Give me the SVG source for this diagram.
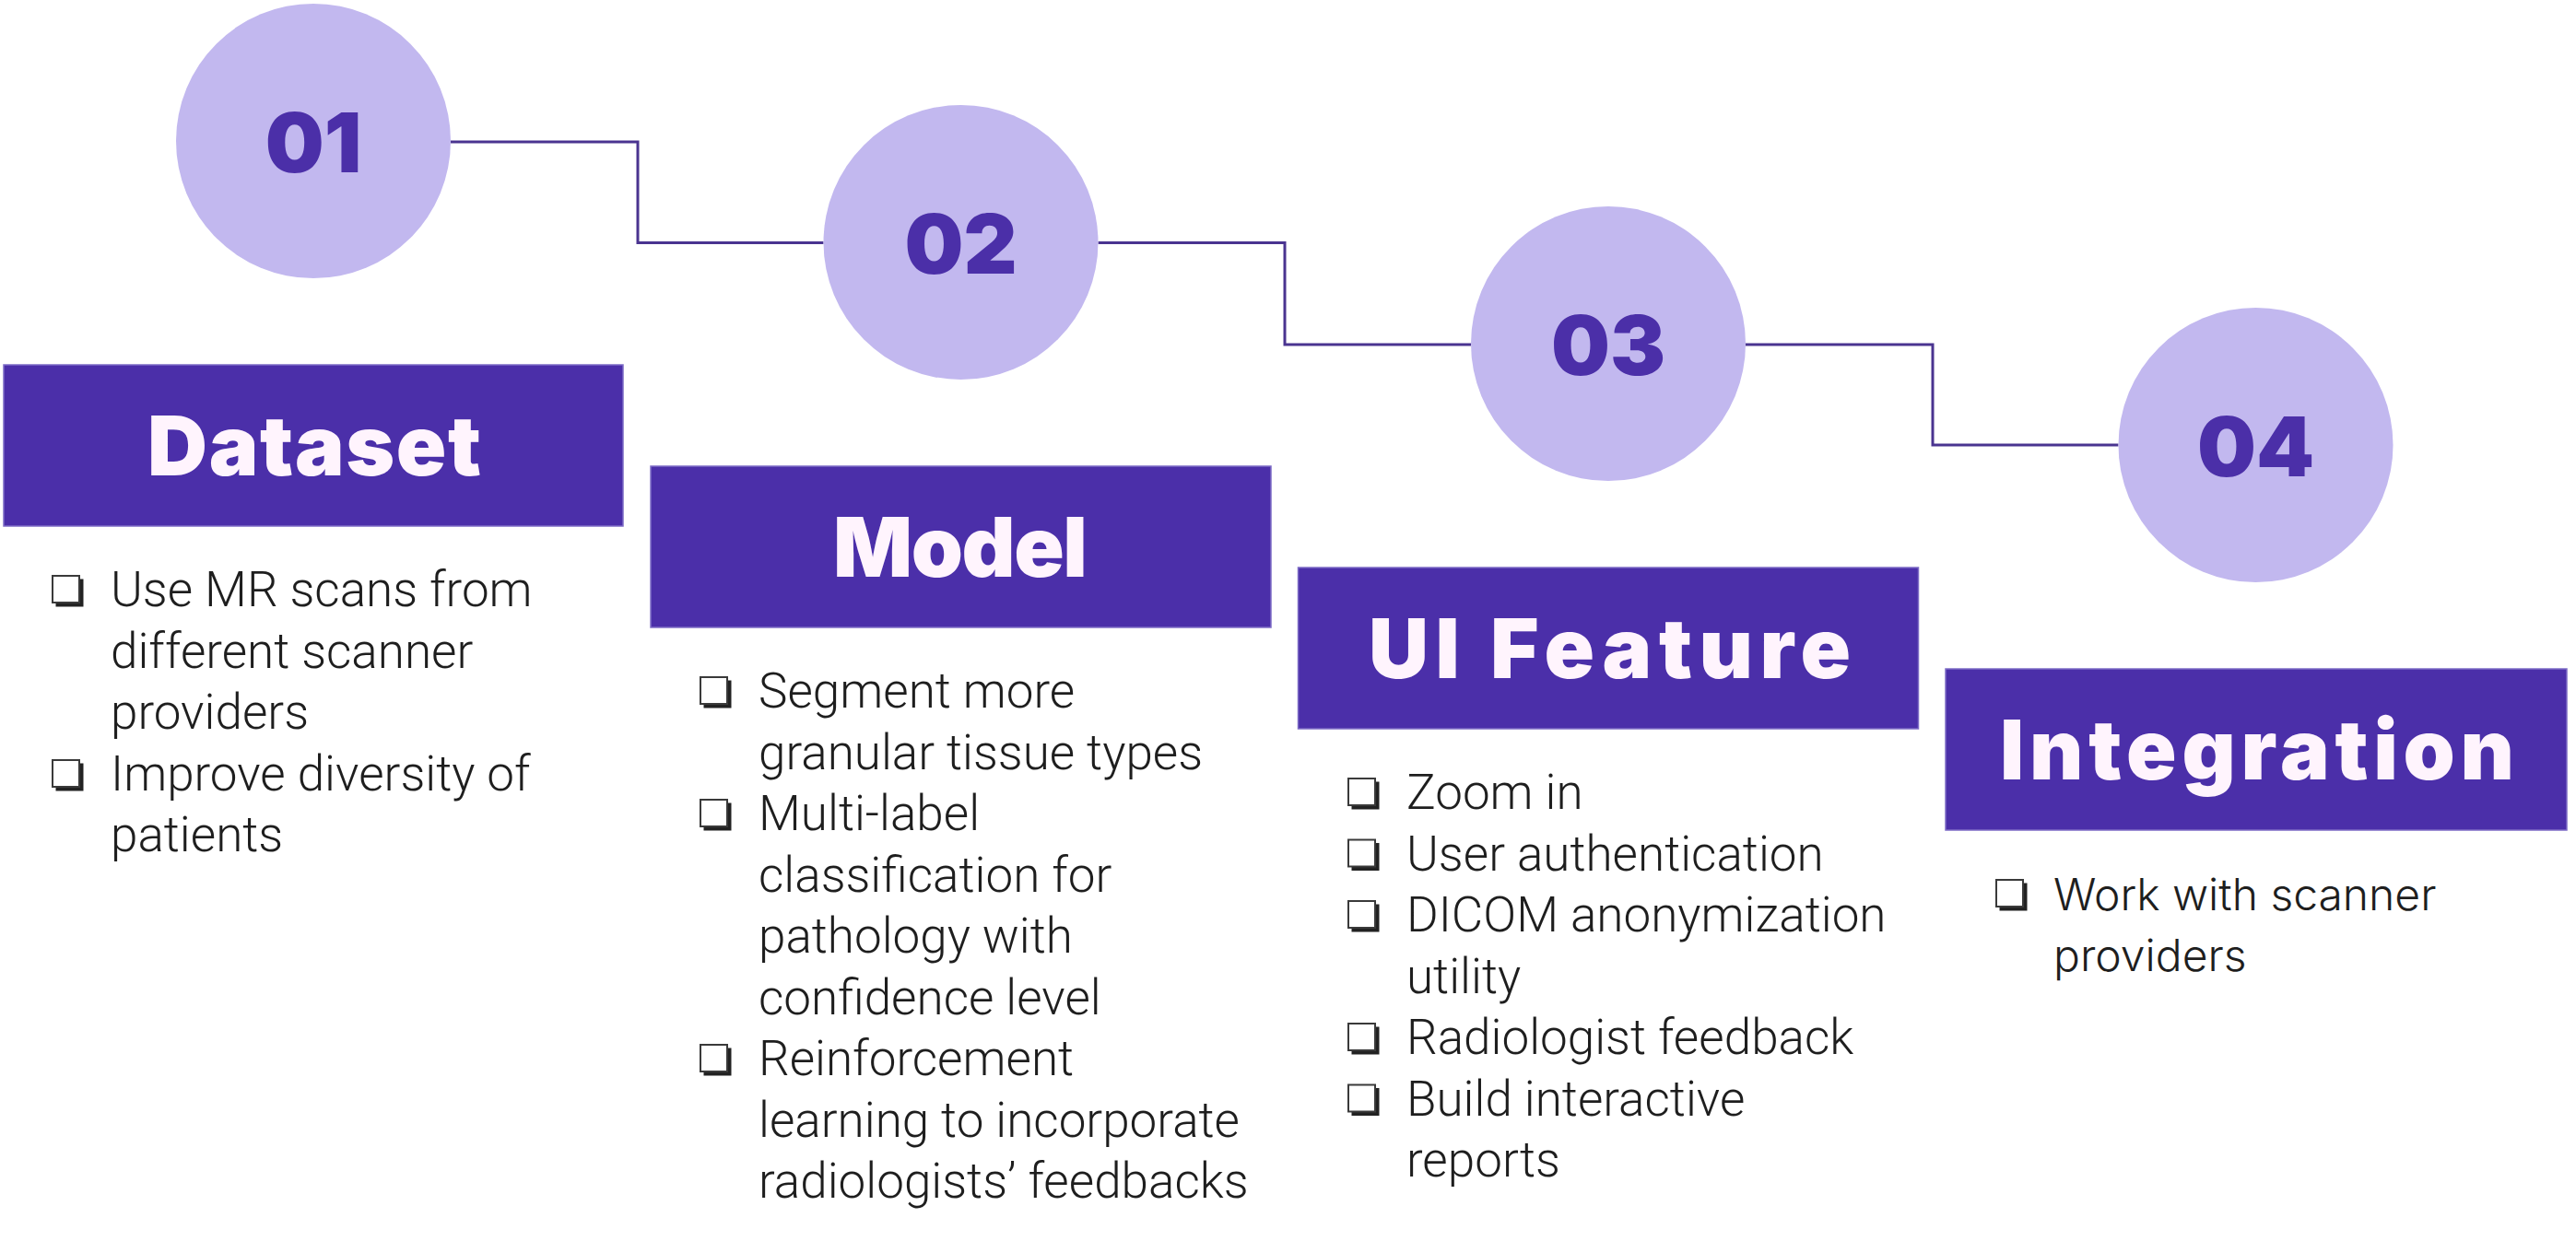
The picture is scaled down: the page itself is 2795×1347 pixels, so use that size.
<svg xmlns="http://www.w3.org/2000/svg" xmlns:xlink="http://www.w3.org/1999/xlink" width="2795" height="1347" viewBox="0 0 2795 1347">
<style>
.circ{fill:#C2B8EF}
.num{font-family:Inter,"DejaVu Sans",sans-serif;font-weight:900;font-size:90px;fill:#4B2FA8;text-anchor:middle}
.box{fill:#4B2FA9;stroke:#7E6CC6;stroke-width:1.5}
.ttl{font-family:Inter,"DejaVu Sans",sans-serif;font-weight:900;font-size:90px;fill:#FFF4FD;text-anchor:middle}
.item{font-family:Roboto,"Liberation Sans",sans-serif;font-weight:300;font-size:53px;fill:#1E1E1E}
.item2{font-family:Inter,"Liberation Sans",sans-serif;font-weight:300;font-size:48px;fill:#1E1E1E}
.conn{fill:none;stroke:#4A3490;stroke-width:3}
</style>
<defs>
<symbol id="cb" overflow="visible">
<rect x="4.5" y="4.5" width="30" height="30" fill="#222"/>
<rect x="1" y="1" width="29" height="29" fill="#fff" stroke="#3a3a3a" stroke-width="2"/>
</symbol>
</defs>
<rect width="2795" height="1347" fill="#fff"/>
<g id="connectors">
<path class="conn" d="M489,154 H692 V263.5 H893.5"/>
<path class="conn" d="M1191.5,263.5 H1394 V374 H1596"/>
<path class="conn" d="M1894,374 H2097 V483 H2298.5"/>
</g>
<g id="step01">
<circle class="circ" cx="340" cy="153" r="149"/>
<text class="num" x="340" y="187">01</text>
<rect class="box" x="4" y="396" width="672" height="175"/>
<text class="ttl" x="341" y="516" textLength="362" lengthAdjust="spacing">Dataset</text>
<use href="#cb" x="56" y="624"/>
<use href="#cb" x="56" y="824"/>
<text class="item" x="120"><tspan x="120" y="658">Use MR scans from</tspan><tspan x="120" y="724.5">different scanner</tspan><tspan x="120" y="791">providers</tspan><tspan x="120" y="857.5">Improve diversity of</tspan><tspan x="120" y="924">patients</tspan></text>
</g>
<g id="step02">
<circle class="circ" cx="1042.5" cy="263" r="149"/>
<text class="num" x="1042.5" y="297">02</text>
<rect class="box" x="706" y="506" width="673" height="175"/>
<text class="ttl" x="1042" y="626" textLength="276" lengthAdjust="spacing">Model</text>
<use href="#cb" x="759" y="734"/>
<use href="#cb" x="759" y="867"/>
<use href="#cb" x="759" y="1133"/>
<text class="item" x="823"><tspan x="823" y="768">Segment more</tspan><tspan x="823" y="834.5">granular tissue types</tspan><tspan x="823" y="901">Multi-label</tspan><tspan x="823" y="967.5">classification for</tspan><tspan x="823" y="1034">pathology with</tspan><tspan x="823" y="1100.5">confidence level</tspan><tspan x="823" y="1167">Reinforcement</tspan><tspan x="823" y="1233.5">learning to incorporate</tspan><tspan x="823" y="1300">radiologists’ feedbacks</tspan></text>
</g>
<g id="step03">
<circle class="circ" cx="1745" cy="373" r="149"/>
<text class="num" x="1745" y="407">03</text>
<rect class="box" x="1408.5" y="616" width="673" height="175"/>
<text class="ttl" x="1746.5" y="736" textLength="523" lengthAdjust="spacing">UI Feature</text>
<use href="#cb" x="1462" y="844"/>
<use href="#cb" x="1462" y="910.5"/>
<use href="#cb" x="1462" y="977"/>
<use href="#cb" x="1462" y="1110"/>
<use href="#cb" x="1462" y="1176.5"/>
<text class="item" x="1526"><tspan x="1526" y="878">Zoom in</tspan><tspan x="1526" y="944.5">User authentication</tspan><tspan x="1526" y="1011">DICOM anonymization</tspan><tspan x="1526" y="1077.5">utility</tspan><tspan x="1526" y="1144">Radiologist feedback</tspan><tspan x="1526" y="1210.5">Build interactive</tspan><tspan x="1526" y="1277">reports</tspan></text>
</g>
<g id="step04">
<circle class="circ" cx="2447.5" cy="483" r="149"/>
<text class="num" x="2447.5" y="517">04</text>
<rect class="box" x="2111" y="726" width="674" height="175"/>
<text class="ttl" x="2449" y="846" textLength="558" lengthAdjust="spacing">Integration</text>
<use href="#cb" x="2165" y="954"/>
<text class="item2" x="2228"><tspan x="2228" y="988">Work with scanner</tspan><tspan x="2228" y="1054">providers</tspan></text>
</g>
</svg>
